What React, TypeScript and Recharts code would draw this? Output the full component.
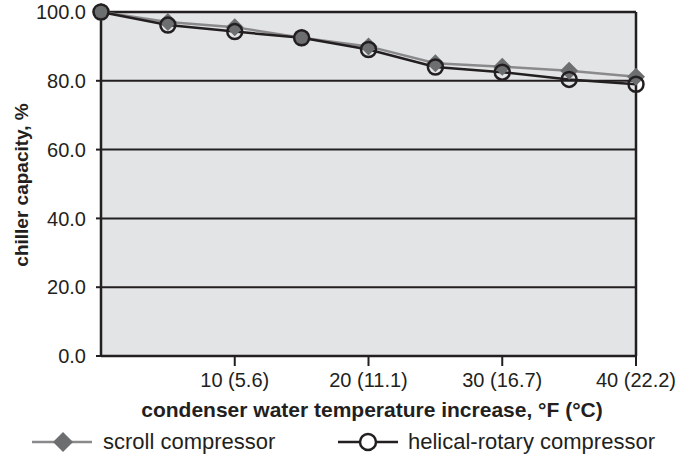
import { CartesianGrid, Line, LineChart, ReferenceLine, XAxis, YAxis } from "recharts";

const xValues = [0, 5, 10, 15, 20, 25, 30, 35, 40];
const scrollValues = [100, 97.1, 95.6, 92.5, 90.0, 85.1, 84.1, 82.9, 81.2];
const helicalValues = [100, 96.2, 94.3, 92.5, 89.1, 84.0, 82.5, 80.4, 79.0];
const xTicks = [10, 20, 30, 40];
const xTickLabels = ["10 (5.6)", "20 (11.1)", "30 (16.7)", "40 (22.2)"];
const yTicks = [0, 20, 40, 60, 80, 100];

const data = xValues.map((x, i) => ({ x, scroll: scrollValues[i], helical: helicalValues[i] }));

const FONT = "'Liberation Sans', Arial, sans-serif";
const INK = "#231f20";
const GRAY_LINE = "#8a8a8c";
const GRAY_MARK = "#6d6e70";
const PLOT_BG = "#e3e4e6";

function Diamond(props: any) {
  const { cx, cy } = props;
  if (cx == null || cy == null) return null;
  const r = 9;
  return (
    <polygon
      points={`${cx},${cy - r} ${cx + r},${cy} ${cx},${cy + r} ${cx - r},${cy}`}
      fill={GRAY_MARK}
    />
  );
}

function Ring(props: any) {
  const { cx, cy } = props;
  if (cx == null || cy == null) return null;
  return <circle cx={cx} cy={cy} r={7.5} fill="none" stroke={INK} strokeWidth={2.5} />;
}

function LegendBox() {
  const text = { fontFamily: FONT, fontSize: 22, color: INK, lineHeight: "24px", whiteSpace: "nowrap" as const };
  return (
    <div style={{ position: "absolute", left: 0, top: 430, width: 681, height: 24 }}>
      <svg width={60} height={24} style={{ position: "absolute", left: 32, top: 0 }}>
        <line x1={0} y1={12} x2={60} y2={12} stroke={GRAY_LINE} strokeWidth={2.5} />
        <polygon points="31,2 41,12 31,22 21,12" fill={GRAY_MARK} />
      </svg>
      <span style={{ ...text, position: "absolute", left: 103, top: 0 }}>scroll compressor</span>
      <svg width={60} height={24} style={{ position: "absolute", left: 338, top: 0 }}>
        <line x1={0} y1={12} x2={60} y2={12} stroke={INK} strokeWidth={2.5} />
        <circle cx={30} cy={12} r={8} fill="#fff" stroke={INK} strokeWidth={2.5} />
      </svg>
      <span style={{ ...text, position: "absolute", left: 408, top: 0 }}>helical-rotary compressor</span>
    </div>
  );
}

export default function App() {
  return (
    <div style={{ position: "fixed", left: 0, top: 0, width: 681, height: 454, background: "#fff" }}>
      <LineChart width={681} height={454} data={data} margin={{ top: 12, right: 45, bottom: 68, left: 16 }}>
        <CartesianGrid vertical={false} fill={PLOT_BG} stroke={INK} strokeWidth={2} strokeOpacity={1} />
        <XAxis
          dataKey="x"
          type="number"
          domain={[0, 40]}
          ticks={xTicks}
          tickFormatter={(v: number) => xTickLabels[xTicks.indexOf(v)]}
          height={30}
          tickSize={10}
          tickMargin={7}
          axisLine={{ stroke: INK, strokeWidth: 2.5 }}
          tickLine={{ stroke: INK, strokeWidth: 2 }}
          tick={{ fill: INK, fontSize: 20, fontFamily: FONT }}
          label={{
            content: () => (
              <text x={372} y={417} textAnchor="middle" fill={INK} fontSize={21} fontWeight="bold" fontFamily={FONT}>
                condenser water temperature increase, °F (°C)
              </text>
            ),
          }}
        />
        <YAxis
          domain={[0, 100]}
          ticks={yTicks}
          width={85}
          tickSize={5}
          tickMargin={10}
          tickFormatter={(v: number) => v.toFixed(1)}
          axisLine={{ stroke: INK, strokeWidth: 2.5 }}
          tickLine={{ stroke: INK, strokeWidth: 2 }}
          tick={{ fill: INK, fontSize: 20, fontFamily: FONT }}
          label={{
            content: () => (
              <text
                x={21}
                y={185}
                transform="rotate(-90 21 185)"
                textAnchor="middle"
                dominantBaseline="central"
                fill={INK}
                fontSize={19}
                fontWeight="bold"
                fontFamily={FONT}
              >
                chiller capacity, %
              </text>
            ),
          }}
        />
        <ReferenceLine x={40} stroke={INK} strokeWidth={2.5} />
        <ReferenceLine y={100} stroke={INK} strokeWidth={2.5} />
        <Line
          dataKey="scroll"
          stroke={GRAY_LINE}
          strokeWidth={2.5}
          dot={<Diamond />}
          activeDot={false}
          isAnimationActive={false}
        />
        <Line
          dataKey="helical"
          stroke={INK}
          strokeWidth={2.5}
          dot={<Ring />}
          activeDot={false}
          isAnimationActive={false}
        />
      </LineChart>
      <LegendBox />
    </div>
  );
}
